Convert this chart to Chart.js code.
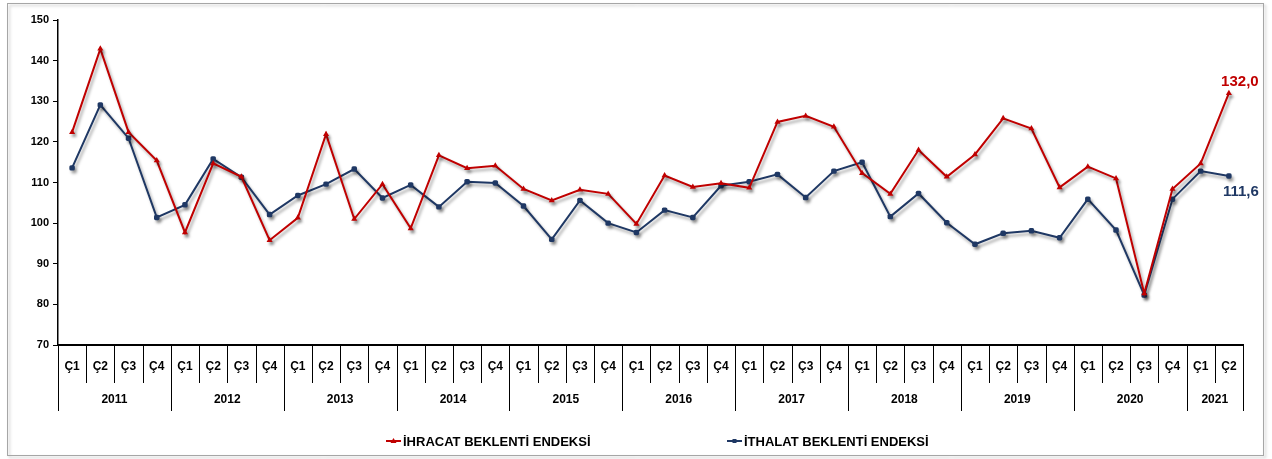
<!DOCTYPE html>
<html lang="tr">
<head>
<meta charset="UTF-8">
<title>İhracat / İthalat Beklenti Endeksi</title>
<script src="https://cdn.jsdelivr.net/npm/chart.js"></script>
<style>
    body { margin: 0; background: #fff; }
    #wrap { width: 1272px; height: 459px; }
</style>
</head>
<body>
<div id="wrap"><canvas id="myChart" width="1272" height="459"></canvas></div>
<script>
// years and quarter names on the two-level x axis
const years = ['2011', '2012', '2013', '2014', '2015', '2016', '2017', '2018', '2019', '2020', '2021'];
const quarters = ['Ç1', 'Ç2', 'Ç3', 'Ç4'];
const lastYearQuarters = 2; // 2021 only runs to Ç2

// İhracat beklenti endeksi (red)
const ihracat = [
    122.4, 142.9, 122.4, 115.4,
    97.7, 114.7, 111.4, 95.8,
    101.3, 121.9, 101.0, 109.6,
    98.7, 116.7, 113.5, 114.1,
    108.4, 105.6, 108.2, 107.2,
    99.8, 111.7, 108.9, 109.8,
    108.7, 124.9, 126.4, 123.7,
    112.3, 107.2, 118.0, 111.4,
    116.9, 125.8, 123.3, 108.8,
    113.9, 111.0, 82.7, 108.4,
    114.7, 132.0
];

// İthalat beklenti endeksi (navy)
const ithalat = [
    113.6, 129.1, 120.9, 101.4,
    104.5, 115.8, 111.3, 102.1,
    106.8, 109.6, 113.3, 106.2,
    109.4, 104.0, 110.2, 109.9,
    104.2, 96.0, 105.6, 100.0,
    97.7, 103.2, 101.4, 109.2,
    110.2, 112.0, 106.3, 112.8,
    115.0, 101.6, 107.3, 100.1,
    94.8, 97.5, 98.1, 96.4,
    105.9, 98.3, 82.3, 105.9,
    112.8, 111.6
];

const yTicks = { min: 70, max: 150, step: 10 };

// category list built from the year / quarter arrays
let labels = [];
let yearOf = [];
years.forEach((y, yi) => {
    const n = yi === years.length - 1 ? lastYearQuarters : quarters.length;
    for (let q = 0; q < n; q++) {
        labels.push(quarters[q]);
        yearOf.push(y);
    }
});

const RED = '#c00000';
const NAVY = '#1f3864';
const FONT = "'Liberation Sans Narrow', 'Arial Narrow', 'Liberation Sans', sans-serif";

// grey frame around the whole chart
const framePlugin = {
    id: 'frame',
    beforeDraw: (chart) => {
        const ctx = chart.ctx;
        ctx.save();
        ctx.fillStyle = '#fff';
        ctx.fillRect(0, 0, chart.width, chart.height);
        ctx.shadowColor = 'rgba(0,0,0,0.25)';
        ctx.shadowOffsetX = 2;
        ctx.shadowOffsetY = 2;
        ctx.shadowBlur = 3;
        ctx.strokeStyle = '#a6a6a6';
        ctx.lineWidth = 1;
        ctx.strokeRect(7.5, 3.5, 1256, 452);
        ctx.restore();
    }
};

// soft drop shadow under the lines
const shadowPlugin = {
    id: 'lineShadow',
    beforeDatasetsDraw: (chart) => {
        const ctx = chart.ctx;
        ctx.save();
        ctx.shadowColor = 'rgba(0,0,0,0.35)';
        ctx.shadowOffsetX = 2;
        ctx.shadowOffsetY = 3;
        ctx.shadowBlur = 3;
    },
    afterDatasetsDraw: (chart) => {
        chart.ctx.restore();
    }
};

// two-level category axis, legend and the end-value labels
const axisPlugin = {
    id: 'axisLabels',
    afterDraw: (chart) => {
        const ctx = chart.ctx;
        const xs = chart.scales.x;
        const area = chart.chartArea;
        const base = area.bottom;
        const band = (area.right - area.left) / labels.length;
        const qRowBottom = base + 38;
        const yRowBottom = base + 66;

        ctx.save();
        ctx.strokeStyle = '#000';
        ctx.lineWidth = 1;
        ctx.fillStyle = '#000';
        ctx.textAlign = 'center';
        ctx.textBaseline = 'middle';

        labels.forEach((lab, i) => {
            const cx = xs.getPixelForValue(i);
            const left = Math.round(cx - band / 2) + 0.5;
            const yearStart = i === 0 || yearOf[i] !== yearOf[i - 1];
            ctx.beginPath();
            ctx.moveTo(left, base);
            ctx.lineTo(left, yearStart ? yRowBottom : qRowBottom);
            ctx.stroke();
            ctx.font = 'bold 12px ' + FONT;
            ctx.fillText(lab, cx, base + 22);
        });
        // closing right edge
        const right = Math.round(area.right) + 0.5;
        ctx.beginPath();
        ctx.moveTo(right, base);
        ctx.lineTo(right, yRowBottom);
        ctx.stroke();

        // year labels centred under their quarters
        years.forEach((y) => {
            const idx = [];
            yearOf.forEach((v, i) => { if (v === y) idx.push(i); });
            const x0 = xs.getPixelForValue(idx[0]);
            const x1 = xs.getPixelForValue(idx[idx.length - 1]);
            ctx.font = 'bold 12px ' + FONT;
            ctx.fillText(y, (x0 + x1) / 2, base + 55);
        });

        // last values
        const n = labels.length - 1;
        const pRed = chart.getDatasetMeta(0).data[n];
        const pNavy = chart.getDatasetMeta(1).data[n];
        ctx.font = 'bold 15px ' + FONT;
        ctx.fillStyle = RED;
        ctx.fillText(ihracat[n].toFixed(1).replace('.', ','), pRed.x + 11, pRed.y - 11);
        ctx.fillStyle = NAVY;
        ctx.fillText(ithalat[n].toFixed(1).replace('.', ','), pNavy.x + 12, pNavy.y + 16);

        // legend
        const items = [
            { text: 'İHRACAT BEKLENTİ ENDEKSİ', color: RED, x: 386, style: 'triangle' },
            { text: 'İTHALAT BEKLENTİ ENDEKSİ', color: NAVY, x: 727, style: 'rect' }
        ];
        const ly = 441;
        items.forEach((it) => {
            ctx.strokeStyle = it.color;
            ctx.fillStyle = it.color;
            ctx.lineWidth = 2;
            ctx.beginPath();
            ctx.moveTo(it.x, ly);
            ctx.lineTo(it.x + 15, ly);
            ctx.stroke();
            ctx.beginPath();
            if (it.style === 'triangle') {
                ctx.moveTo(it.x + 7.5, ly - 3);
                ctx.lineTo(it.x + 10.5, ly + 2);
                ctx.lineTo(it.x + 4.5, ly + 2);
                ctx.closePath();
            } else {
                ctx.rect(it.x + 5.5, ly - 2, 4, 4);
            }
            ctx.fill();
            ctx.fillStyle = '#000';
            ctx.textAlign = 'left';
            ctx.font = 'bold 13px ' + FONT;
            ctx.fillText(it.text, it.x + 17, ly + 1);
        });
        ctx.restore();
    }
};

const ctx = document.getElementById('myChart').getContext('2d');
new Chart(ctx, {
    type: 'line',
    data: {
        labels: labels,
        datasets: [{
            label: 'İHRACAT BEKLENTİ ENDEKSİ',
            data: ihracat,
            borderColor: RED,
            backgroundColor: RED,
            borderWidth: 2,
            pointStyle: 'triangle',
            pointRadius: 3.5,
            pointBorderWidth: 0,
            tension: 0
        }, {
            label: 'İTHALAT BEKLENTİ ENDEKSİ',
            data: ithalat,
            borderColor: NAVY,
            backgroundColor: NAVY,
            borderWidth: 2,
            pointStyle: 'rectRounded',
            pointRadius: 3.2,
            pointBorderWidth: 0,
            tension: 0
        }]
    },
    options: {
        responsive: false,
        animation: false,
        layout: { padding: { left: 0, top: 20, right: 29, bottom: 114 } },
        plugins: {
            legend: { display: false },
            tooltip: { enabled: false }
        },
        scales: {
            x: {
                type: 'category',
                offset: true,
                ticks: { display: false },
                grid: { display: false },
                border: { color: '#000', width: 2 },
                afterFit: (scale) => { scale.height = 0; }
            },
            y: {
                min: yTicks.min,
                max: yTicks.max,
                ticks: {
                    stepSize: yTicks.step,
                    color: '#000',
                    padding: 4,
                    font: { family: FONT, size: 11, weight: 'bold' }
                },
                grid: { drawOnChartArea: false, drawTicks: true, tickLength: 5, color: '#000' },
                border: { color: '#000', width: 1.5 },
                afterFit: (scale) => { scale.width = 58; }
            }
        }
    },
    plugins: [framePlugin, shadowPlugin, axisPlugin]
});
</script>
</body>
</html>
